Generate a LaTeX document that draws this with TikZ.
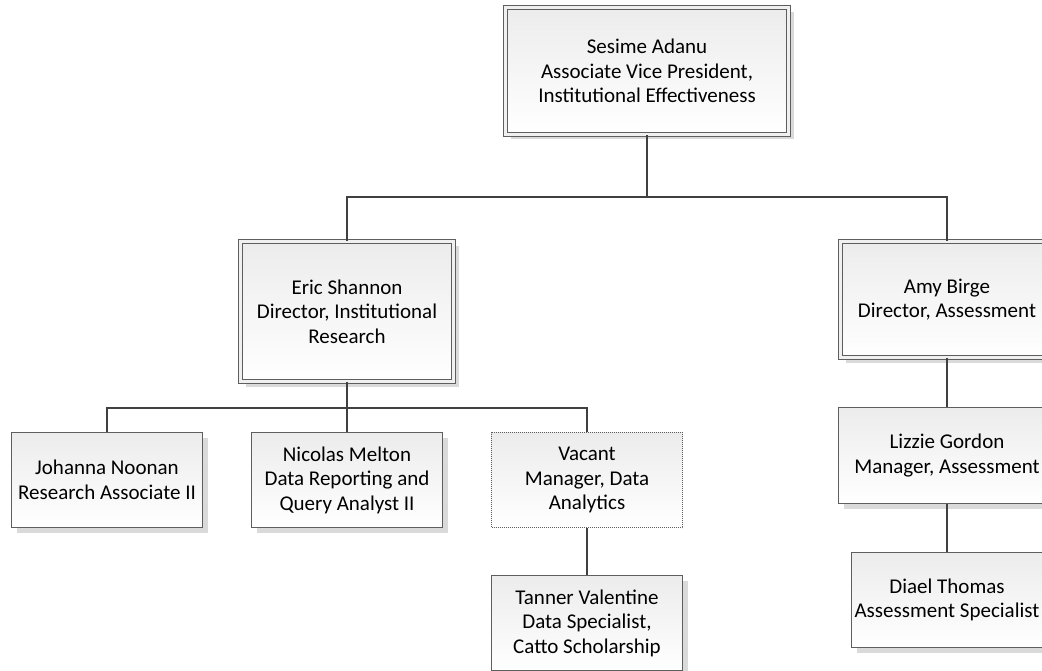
\documentclass[tikz,border=0pt]{standalone}
\usepackage{fontspec}
\setmainfont{Carlito}
\usepackage{tikz}
\usetikzlibrary{positioning,shadows}

\definecolor{boxline}{HTML}{5E5E5E}
\definecolor{linkline}{HTML}{404040}
\definecolor{boxtop}{HTML}{ECECEC}
\definecolor{shadowgray}{HTML}{DADADA}

\begin{document}
\begin{tikzpicture}[x=1pt,y=-1pt,
    person/.style={rectangle,draw=boxline,line width=1.2pt,top color=boxtop,bottom color=white,
      align=center,font=\fontsize{21}{24.5}\selectfont,inner sep=0pt,
      drop shadow={shadow xshift=5pt,shadow yshift=-5pt,fill=shadowgray,opacity=1}},
    lead/.style={person,double=black!6,double distance=3.5pt,line width=0.9pt},
    vacantbox/.style={rectangle,draw=boxline,line width=0.9pt,dash pattern=on 1pt off 1pt,
      top color=boxtop,bottom color=white,
      align=center,font=\fontsize{21}{24.5}\selectfont,inner sep=0pt},
    link/.style={draw=linkline,line width=2.4pt}]
	  % Page and clipping
	  \useasboundingbox (0,0) rectangle (1042,671);
	  \clip (0,0) rectangle (1042,671);
	  % Top level
	  \node (adanu) [lead,minimum width=283pt,minimum height=127pt] at (647,71)
	      {Sesime Adanu\\Associate Vice President,\\Institutional Effectiveness};
	  % Directors
	  \node (shannon) [lead,minimum width=213pt,minimum height=140pt] at (347,311.5)
	      {Eric Shannon\\Director, Institutional\\Research};
	  \node (birge) [lead,minimum width=213pt,minimum height=116pt] at (947,299.5)
	      {Amy Birge\\Director, Assessment};
	  % Institutional research staff
	  \node (noonan) [person,minimum width=191pt,minimum height=95pt] at (107,480)
	      {Johanna Noonan\\Research Associate II};
	  \node (melton) [person,minimum width=191pt,minimum height=95pt] at (347,480)
	      {Nicolas Melton\\Data Reporting and\\Query Analyst II};
	  \node (vacant) [vacantbox,minimum width=191pt,minimum height=95pt] at (587,480)
	      {Vacant\\Manager, Data\\Analytics};
	  \node (valentine) [person,minimum width=191pt,minimum height=95pt] at (587,623)
	      {Tanner Valentine\\Data Specialist,\\Catto Scholarship};
	  % Assessment staff
	  \node (gordon) [person,minimum width=217pt,minimum height=96pt] at (947,455.5)
	      {Lizzie Gordon\\Manager, Assessment};
	  \node (thomas) [person,minimum width=191pt,minimum height=95pt] at (947,600)
	      {Diael Thomas\\Assessment Specialist};
	  % Connectors
	  \coordinate (topjoint) at (647,197);
	  \coordinate (irjoint) at (347,408);
	  \draw [link] (adanu.south) -- (topjoint);
	  \draw [link] (shannon.north) |- (topjoint) -| (birge.north);
	  \draw [link] (shannon.south) -- (melton.north);
	  \draw [link] (noonan.north) |- (irjoint) -| (vacant.north);
	  \draw [link] (vacant.south) -- (valentine.north);
	  \draw [link] (birge.south) -- (gordon.north);
	  \draw [link] (gordon.south) -- (thomas.north);
\end{tikzpicture}
\end{document}
